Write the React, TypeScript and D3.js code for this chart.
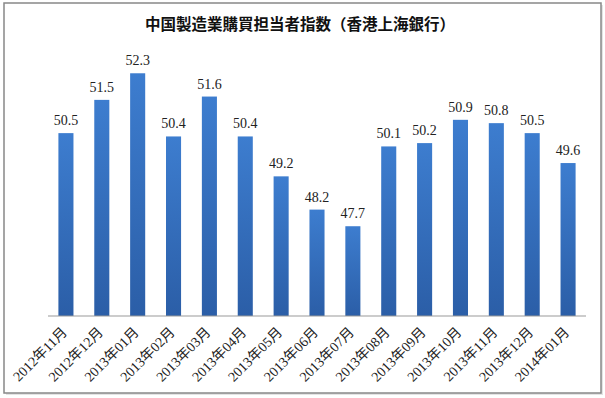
import React from 'react';
import * as d3 from 'd3';

const categories = [
  '2012年11月', '2012年12月', '2013年01月', '2013年02月', '2013年03月',
  '2013年04月', '2013年05月', '2013年06月', '2013年07月', '2013年08月',
  '2013年09月', '2013年10月', '2013年11月', '2013年12月', '2014年01月',
];
const values = [50.5, 51.5, 52.3, 50.4, 51.6, 50.4, 49.2, 48.2, 47.7, 50.1, 50.2, 50.9, 50.8, 50.5, 49.6];
const yDomain: [number, number] = [45, 53];
const title = '中国製造業購買担当者指数（香港上海銀行）';

const W = 605;
const H = 398;
const plot = { left: 48, right: 586, top: 50, bottom: 316 };
const serif = '"Liberation Serif", "Times New Roman", "Noto Sans CJK JP", serif';

export default function App() {
  const x = d3
    .scaleBand<string>()
    .domain(categories)
    .range([plot.left, plot.right])
    .paddingInner(0.58)
    .paddingOuter(0.29);

  const y = d3.scaleLinear().domain(yDomain).range([plot.bottom, plot.top]);

  return (
    <svg
      width={W}
      height={H}
      style={{ position: 'absolute', left: 0, top: 0, background: '#fff' }}
    >
      <defs>
        <linearGradient id="barFill" x1="0" y1="0" x2="0" y2="1">
          <stop offset="0%" stopColor="#3d7dcf" />
          <stop offset="100%" stopColor="#2b5ea7" />
        </linearGradient>
      </defs>

      {/* frame with a soft shadow */}
      <rect x={6} y={5} width={597} height={390} fill="#e4e4e4" />
      <rect x={4} y={3} width={597} height={390} fill="#fff" stroke="#888" strokeWidth={1.5} />

      <text
        x={300}
        y={30}
        textAnchor="middle"
        fontFamily='"Noto Sans CJK JP", sans-serif'
        fontWeight="bold"
        fontSize={15.5}
        fill="#111"
      >
        {title}
      </text>

      {categories.map((c, i) => {
        const bx = x(c)!;
        const top = y(values[i]);
        return (
          <g key={c}>
            <rect
              x={bx}
              y={top}
              width={x.bandwidth()}
              height={plot.bottom - top}
              fill="url(#barFill)"
            />
            <text
              x={bx + x.bandwidth() / 2}
              y={top - 8}
              textAnchor="middle"
              fontFamily={serif}
              fontSize={14}
              fill="#222"
            >
              {values[i].toFixed(1)}
            </text>
          </g>
        );
      })}

      <line
        x1={plot.left}
        x2={plot.right}
        y1={plot.bottom}
        y2={plot.bottom}
        stroke="#999"
        strokeWidth={1}
      />

      {categories.map((c) => {
        const cx = x(c)! + x.bandwidth() / 2;
        return (
          <text
            key={`l-${c}`}
            transform={`translate(${cx + 2},${plot.bottom + 17}) rotate(-45)`}
            textAnchor="end"
            fontFamily={serif}
            fontSize={14}
            fill="#222"
          >
            {c}
          </text>
        );
      })}
    </svg>
  );
}
